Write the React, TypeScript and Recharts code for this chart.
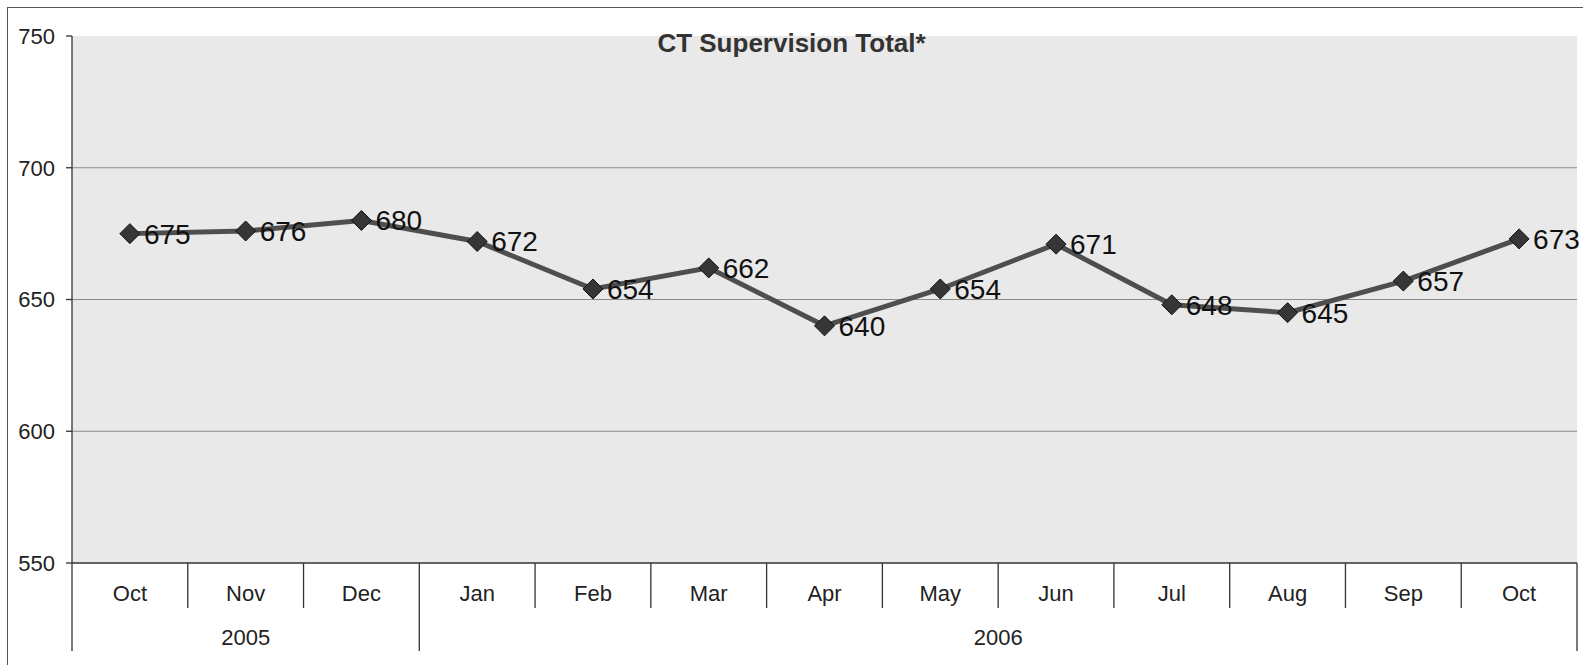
import React from "react";
import {
  LineChart,
  Line,
  XAxis,
  YAxis,
  CartesianGrid,
  LabelList,
} from "recharts";

const months = ["Oct", "Nov", "Dec", "Jan", "Feb", "Mar", "Apr", "May", "Jun", "Jul", "Aug", "Sep", "Oct"];
const years = ["2005", "2005", "2005", "2006", "2006", "2006", "2006", "2006", "2006", "2006", "2006", "2006", "2006"];
const totals = [675, 676, 680, 672, 654, 662, 640, 654, 671, 648, 645, 657, 673];
const yTicks = [550, 600, 650, 700, 750];
const gridValues = [600, 650, 700];

const data = months.map((m, i) => ({ key: `${m}-${years[i]}`, month: m, year: years[i], total: totals[i] }));

const W = 1583;
const H = 665;
const LEFT = 72;
const RIGHT = 6;
const FONT = '"Liberation Sans", Arial, sans-serif';

const halfBand = (W - LEFT - RIGHT) / months.length / 2;

function MonthTick(props: any) {
  const { x, y, payload, index } = props;
  const i = index ?? payload.index;
  const half = payload.offset && payload.offset > 5 ? payload.offset : halfBand;
  const year = years[i];
  const lastOfYear = i === years.length - 1 || years[i + 1] !== year;
  const firstOfYear = i === 0 || years[i - 1] !== year;
  const groupSize = years.filter((yv) => yv === year).length;
  return (
    <g>
      {i === 0 && <line x1={x - half} x2={x - half} y1={y} y2={y + 88} stroke="#333" strokeWidth={1.3} />}
      <line
        x1={x + half}
        x2={x + half}
        y1={y}
        y2={lastOfYear ? y + 88 : y + 45}
        stroke="#333"
        strokeWidth={1.3}
      />
      <text x={x} y={y + 38} textAnchor="middle" fontSize={22} fill="#222" fontFamily={FONT}>
        {months[i]}
      </text>
      {firstOfYear && (
        <text x={x + (groupSize - 1) * half} y={y + 82} textAnchor="middle" fontSize={22} fill="#222" fontFamily={FONT}>
          {year}
        </text>
      )}
    </g>
  );
}

export default function App() {
  return (
    <div style={{ position: "absolute", left: 0, top: 0, width: W, height: H, background: "#fff" }}>
      <div
        style={{
          position: "absolute",
          left: 7,
          top: 7,
          width: W - 7,
          height: H - 7,
          borderLeft: "1.5px solid #555",
          borderTop: "1.5px solid #555",
          boxSizing: "border-box",
        }}
      />
      <LineChart width={W} height={H} data={data} margin={{ top: 36, right: RIGHT, bottom: 0, left: 0 }}>
        <CartesianGrid
          vertical={false}
          horizontalValues={gridValues}
          stroke="#8a8a8a"
          strokeWidth={1}
          fill="#e9e9e9"
        />
        <XAxis
          dataKey="key"
          scale="band"
          interval={0}
          height={102}
          tickSize={0}
          tickMargin={0}
          tickLine={false}
          stroke="#333"
          strokeWidth={1.3}
          tick={<MonthTick />}
        />
        <YAxis
          domain={[550, 750]}
          ticks={yTicks}
          width={LEFT}
          tickSize={6}
          tickMargin={11}
          stroke="#333"
          strokeWidth={1.3}
          tick={{ fontSize: 22, fill: "#222", fontFamily: FONT }}
        />
        <Line
          dataKey="total"
          stroke="#4e4e4e"
          strokeWidth={5}
          isAnimationActive={false}
          dot={(p: any) => (
            <path
              key={`d-${p.index}`}
              d={`M${p.cx},${p.cy - 10} L${p.cx + 10},${p.cy} L${p.cx},${p.cy + 10} L${p.cx - 10},${p.cy} Z`}
              fill="#363636"
              stroke="#111"
              strokeWidth={1}
            />
          )}
        >
          <LabelList
            dataKey="total"
            position="right"
            offset={14}
            fontSize={28}
            fill="#111"
            fontFamily={FONT}
          />
        </Line>
      </LineChart>
      <div
        style={{
          position: "absolute",
          left: 0,
          top: 30,
          width: W,
          textAlign: "center",
          fontFamily: FONT,
          fontWeight: "bold",
          fontSize: 26,
          lineHeight: "26px",
          color: "#333",
        }}
      >
        CT Supervision Total*
      </div>
    </div>
  );
}
